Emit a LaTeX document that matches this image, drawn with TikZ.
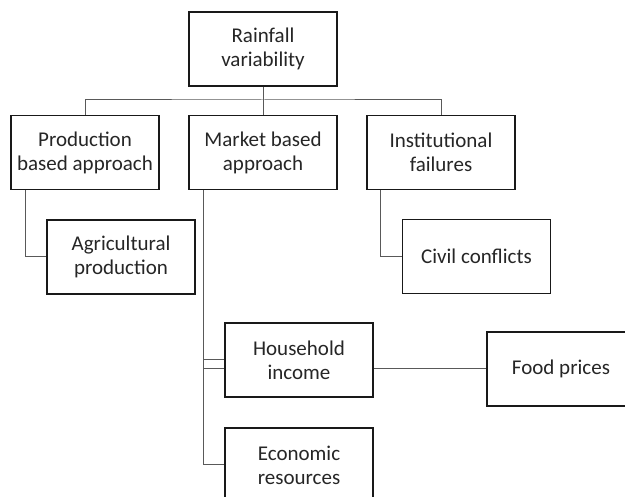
\documentclass[tikz,border=0pt]{standalone}
\usepackage{fontspec}
\setmainfont{Carlito}
\begin{document}
\begin{tikzpicture}[x=1pt,y=-1pt,
  box/.style={draw=black!90, line width=1.6pt, fill=white, minimum width=148pt, minimum height=74pt,
    inner sep=0pt, align=center, text=black!85, font=\fontsize{21}{24}\selectfont},
  conn/.style={draw=black!65, line width=1pt}]
\useasboundingbox (0,0) rectangle (625,497);
\clip (0,0) rectangle (625,497);
\node[box] (rain)   at (263,49)    {Rainfall\\variability};
\node[box] (prod)   at (85,152.5)  {Production\\based approach};
\node[box] (market) at (263,152.5) {Market based\\approach};
\node[box] (inst)   at (441,152.5) {Institutional\\failures};
\node[box] (agri)   at (121,257)   {Agricultural\\production};
\node[box] (civil)  at (476.5,256.5) {Civil conflicts};
\node[box] (house)  at (299,360)   {Household\\income};
\node[box] (food)   at (561,369)   {Food prices};
\node[box] (econ)   at (299,465)   {Economic\\resources};
\coordinate (bus) at (263,100);
\draw[conn] (rain.south) -- (market.north);
\draw[conn] (prod.north) |- (bus) -| (inst.north);
\draw[conn] ([xshift=15pt]prod.south west) |- (agri.west);
\draw[conn] ([xshift=14pt]inst.south west) |- (civil.west);
\draw[conn] ([xshift=15pt]market.south west) |- (econ.west);
\draw[conn] ([xshift=15pt]market.south west) |- (house.west);
\draw[conn] ([xshift=15pt]market.south west) |- (house.west |- food.west);
\draw[conn] (house.east |- food.west) -- (food.west);
\end{tikzpicture}
\end{document}
